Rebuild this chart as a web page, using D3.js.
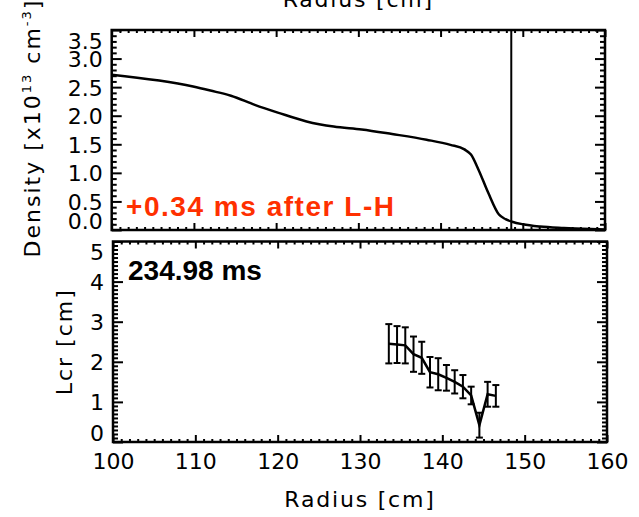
<!DOCTYPE html>
<html>
<head>
<meta charset="utf-8">
<script src="https://cdn.jsdelivr.net/npm/d3@7"></script>
<style>
  html, body { margin: 0; padding: 0; background: #fff; }
  svg { display: block; }
  .tick text { font-family: "DejaVu Sans", sans-serif; font-size: 22px; fill: #000; }
  .tick line { stroke: #000; stroke-width: 2; }
  .domain { display: none; }
</style>
</head>
<body>
<svg id="chart" width="639" height="517"></svg>
<script>
// Density profile (top panel)
const densityRadius = [100, 109.9, 112.0, 114.5, 117.4, 120.3, 123.7, 127.0, 130.4, 134.1, 138.3, 141.2, 142.9, 143.7, 144.6, 145.8, 147.1, 147.9, 148.7, 150.0, 152.1, 155.0, 158.3, 160];
const densityValue  = [2.715, 2.51, 2.44, 2.35, 2.19, 2.05, 1.90, 1.81, 1.76, 1.68, 1.58, 1.49, 1.41, 1.32, 1.06, 0.65, 0.27, 0.19, 0.145, 0.10, 0.06, 0.035, 0.017, 0.01];
const separatrixRadius = 148.6;

// Correlation length with error bars (bottom panel)
const lcrRadius = [133.5, 134.5, 135.5, 136.5, 137.5, 138.5, 139.5, 140.5, 141.5, 142.5, 143.5, 144.5, 145.5, 146.5];
const lcrValue  = [2.45, 2.43, 2.41, 2.19, 2.10, 1.74, 1.69, 1.60, 1.50, 1.38, 1.16, 0.42, 1.19, 1.15];
const lcrError  = [0.49, 0.46, 0.45, 0.44, 0.40, 0.38, 0.40, 0.32, 0.29, 0.29, 0.22, 0.31, 0.31, 0.27];

// Tick values and labels
const xTicks = [100, 110, 120, 130, 140, 150, 160];
const densityTicks = [0, 0.5, 1.0, 1.5, 2.0, 2.5, 3.0, 3.5];
const lcrTicks = [0, 1, 2, 3, 4, 5];

const xTitle = "Radius [cm]";
const lcrTitle = "Lcr [cm]";
const timeLabel = "234.98 ms";
const offsetLabel = "+0.34 ms after L-H";

const svg = d3.select("#chart");

const panelTop = { left: 111.7, right: 605, top: 30, bottom: 230 };
const panelBot = { left: 113, right: 607, top: 241.5, bottom: 442 };

const xTop = d3.scaleLinear().domain([100, 160]).range([panelTop.left, panelTop.right]);
const yTop = d3.scaleLinear().domain([0, 3.5]).range([panelTop.bottom, panelTop.top]);
const xBot = d3.scaleLinear().domain([100, 160]).range([panelBot.left, panelBot.right]);
const yBot = d3.scaleLinear().domain([0, 5]).range([panelBot.bottom, panelBot.top]);

function steps(a, b, step) {
  const out = [];
  const n = Math.round((b - a) / step);
  for (let i = 0; i <= n; i++) out.push(+(a + i * step).toFixed(4));
  return out;
}

function drawFrame(p, x, y, yMajor, yMinorStep, fmt, showXLabels) {
  const xMinor = steps(100, 160, 1).filter(v => !xTicks.includes(v));
  const yDom = y.domain();
  const yMinor = steps(yDom[0], yDom[1], yMinorStep).filter(v => !yMajor.some(m => Math.abs(m - v) < 1e-6));

  // left axis: inward ticks, labels kept inside the frame's height
  const gl = svg.append("g").attr("transform", `translate(${p.left},0)`);
  gl.call(d3.axisLeft(y).tickValues(yMajor).tickSize(-10).tickPadding(9).tickFormat(fmt));
  gl.selectAll(".tick text").attr("dy", d => {
    const yc = Math.max(p.top + 10, Math.min(p.bottom - 10, y(d)));
    return (yc - y(d) + 8) + "px";
  });
  svg.append("g").attr("transform", `translate(${p.left},0)`)
    .call(d3.axisLeft(y).tickValues(yMinor).tickSize(-5).tickFormat(""));

  // right axis
  svg.append("g").attr("transform", `translate(${p.right},0)`)
    .call(d3.axisRight(y).tickValues(yMajor).tickSize(-10).tickFormat(""));
  svg.append("g").attr("transform", `translate(${p.right},0)`)
    .call(d3.axisRight(y).tickValues(yMinor).tickSize(-5).tickFormat(""));

  // bottom axis
  const gb = svg.append("g").attr("transform", `translate(0,${p.bottom})`);
  gb.call(d3.axisBottom(x).tickValues(xTicks).tickSize(-7).tickPadding(11)
    .tickFormat(showXLabels ? d3.format("d") : ""));
  svg.append("g").attr("transform", `translate(0,${p.bottom})`)
    .call(d3.axisBottom(x).tickValues(xMinor).tickSize(-3).tickFormat(""));

  // top axis
  svg.append("g").attr("transform", `translate(0,${p.top})`)
    .call(d3.axisTop(x).tickValues(xTicks).tickSize(-7).tickFormat(""));
  svg.append("g").attr("transform", `translate(0,${p.top})`)
    .call(d3.axisTop(x).tickValues(xMinor).tickSize(-3).tickFormat(""));

  svg.append("rect")
    .attr("x", p.left).attr("y", p.top)
    .attr("width", p.right - p.left).attr("height", p.bottom - p.top)
    .attr("fill", "none").attr("stroke", "#000").attr("stroke-width", 2.5);
}

// clip paths
const defs = svg.append("defs");
defs.append("clipPath").attr("id", "clipTop").append("rect")
  .attr("x", panelTop.left).attr("y", panelTop.top)
  .attr("width", panelTop.right - panelTop.left).attr("height", panelTop.bottom - panelTop.top);

// x-axis title from the panel above, cut by the page edge
svg.append("text")
  .attr("x", (panelTop.left + panelTop.right) / 2).attr("y", 7)
  .attr("text-anchor", "middle")
  .attr("font-family", "DejaVu Sans").attr("font-size", 22)
  .attr("letter-spacing", "1.8px")
  .text(xTitle);

// ---- top panel: density ----
drawFrame(panelTop, xTop, yTop, densityTicks, 0.1, d3.format(".1f"), false);

const densLine = d3.line()
  .x((d, i) => xTop(densityRadius[i]))
  .y((d, i) => yTop(densityValue[i]))
  .curve(d3.curveMonotoneX);

svg.append("path")
  .datum(densityValue)
  .attr("clip-path", "url(#clipTop)")
  .attr("d", densLine)
  .attr("fill", "none").attr("stroke", "#000").attr("stroke-width", 2.5);

svg.append("line")
  .attr("x1", xTop(separatrixRadius)).attr("x2", xTop(separatrixRadius))
  .attr("y1", panelTop.top).attr("y2", panelTop.bottom)
  .attr("stroke", "#000").attr("stroke-width", 2);

svg.append("text")
  .attr("x", 126).attr("y", 216)
  .attr("font-family", "Liberation Sans").attr("font-weight", "bold")
  .attr("font-size", 28).attr("fill", "#ff3000")
  .attr("textLength", 268).attr("lengthAdjust", "spacing")
  .text(offsetLabel);

// y title with superscripts
const dt = svg.append("text")
  .attr("transform", `translate(40,${(panelTop.top + panelTop.bottom) / 2 - 2}) rotate(-90)`)
  .attr("text-anchor", "middle")
  .attr("font-family", "DejaVu Sans").attr("font-size", 22)
  .attr("letter-spacing", "2px");
dt.append("tspan").text("Density [x10");
dt.append("tspan").attr("font-size", 13).attr("dy", -9).text("13");
dt.append("tspan").attr("dy", 9).text(" cm");
dt.append("tspan").attr("font-size", 13).attr("dy", -9).text("-3");
dt.append("tspan").attr("dy", 9).text("]");

// ---- bottom panel: Lcr ----
drawFrame(panelBot, xBot, yBot, lcrTicks, 0.1, d3.format("d"), true);

const lcrLine = d3.line()
  .x((d, i) => xBot(lcrRadius[i]))
  .y(d => yBot(d));

svg.append("path")
  .datum(lcrValue)
  .attr("d", lcrLine)
  .attr("fill", "none").attr("stroke", "#000").attr("stroke-width", 2.5)
  .attr("stroke-linejoin", "miter");

const eb = svg.append("g").attr("stroke", "#000").attr("stroke-width", 2);
lcrValue.forEach((v, i) => {
  const xc = xBot(lcrRadius[i]);
  const y1 = yBot(v + lcrError[i]);
  const y2 = yBot(v - lcrError[i]);
  eb.append("line").attr("x1", xc).attr("x2", xc).attr("y1", y1).attr("y2", y2);
  eb.append("line").attr("x1", xc - 3.5).attr("x2", xc + 3.5).attr("y1", y1).attr("y2", y1);
  eb.append("line").attr("x1", xc - 3.5).attr("x2", xc + 3.5).attr("y1", y2).attr("y2", y2);
});

svg.append("text")
  .attr("x", 128).attr("y", 280)
  .attr("font-family", "Liberation Sans").attr("font-weight", "bold")
  .attr("font-size", 28).attr("fill", "#000")
  .text(timeLabel);

svg.append("text")
  .attr("transform", `translate(72,${(panelBot.top + panelBot.bottom) / 2}) rotate(-90)`)
  .attr("text-anchor", "middle")
  .attr("font-family", "DejaVu Sans").attr("font-size", 22)
  .attr("letter-spacing", "2px")
  .text(lcrTitle);

svg.append("text")
  .attr("x", (panelBot.left + panelBot.right) / 2).attr("y", 507)
  .attr("text-anchor", "middle")
  .attr("font-family", "DejaVu Sans").attr("font-size", 22)
  .attr("letter-spacing", "1.8px")
  .text(xTitle);
</script>
</body>
</html>
